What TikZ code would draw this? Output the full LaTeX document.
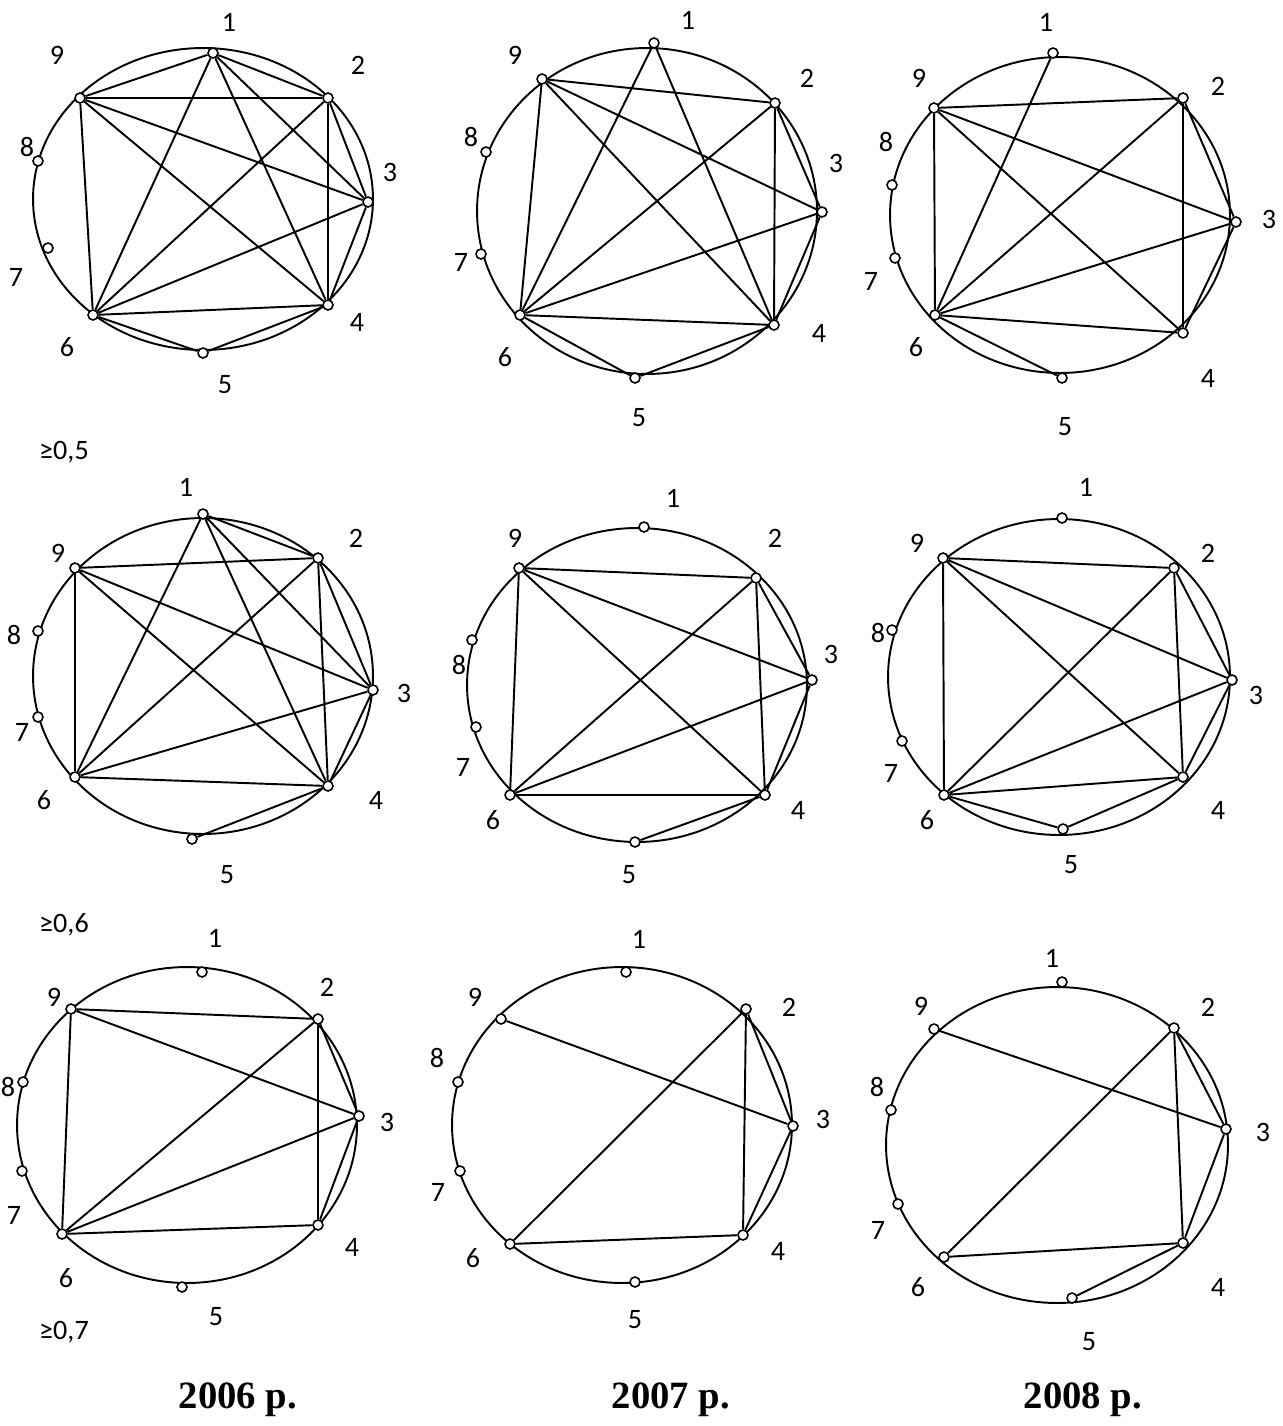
\documentclass[tikz,border=0pt]{standalone}
\usepackage{fontspec}
\setmainfont{Carlito}
\newfontfamily\yearfont{Liberation Serif}
\usepackage{tikz}

\begin{document}
\begin{tikzpicture}[x=0.02cm,y=-0.02cm,line width=1.1pt,
  vtx/.style={circle,draw,fill=white,inner sep=0pt,minimum size=0.2cm,line width=0.9pt},
  lbl/.style={font=\fontsize{16}{19}\selectfont,inner sep=0pt},
  yr/.style={font=\yearfont\bfseries\fontsize{22}{26}\selectfont,inner sep=0pt}]
\useasboundingbox (0,0) rectangle (1282,1426);

\draw (203,199) ellipse (3.4cm and 3.02cm);
\node[vtx] (a1) at (213,53) {}; \node[vtx] (a2) at (328,98) {}; \node[vtx] (a3) at (368,202) {};
\node[vtx] (a4) at (328,305) {}; \node[vtx] (a5) at (203,353) {}; \node[vtx] (a6) at (93,315) {};
\node[vtx] (a7) at (48,248) {}; \node[vtx] (a8) at (38,161) {}; \node[vtx] (a9) at (80,98) {};
\draw (a1)--(a9) (a1)--(a2) (a1)--(a3) (a1)--(a4) (a1)--(a6) (a9)--(a2) (a9)--(a3) (a9)--(a4) (a9)--(a6)
  (a2)--(a3) (a2)--(a4) (a2)--(a6) (a3)--(a4) (a3)--(a6) (a4)--(a6) (a4)--(a5) (a6)--(a5);
\node[lbl] (la1) at (229,22) {1}; \node[lbl] (la2) at (358,65) {2}; \node[lbl] (la3) at (390,172) {3};
\node[lbl] (la4) at (357,322) {4}; \node[lbl] (la5) at (225,385) {5}; \node[lbl] (la6) at (67,347) {6};
\node[lbl] (la7) at (16,277) {7}; \node[lbl] (la8) at (27,147) {8}; \node[lbl] (la9) at (57,55) {9};

\draw (647,211) ellipse (3.4cm and 3.26cm);
\node[vtx] (b1) at (654,43) {}; \node[vtx] (b2) at (775,103) {}; \node[vtx] (b3) at (822,212) {};
\node[vtx] (b4) at (774,325) {}; \node[vtx] (b5) at (635,378) {}; \node[vtx] (b6) at (520,315) {};
\node[vtx] (b7) at (481,254) {}; \node[vtx] (b8) at (486,152) {}; \node[vtx] (b9) at (542,79) {};
\draw (b1)--(b6) (b1)--(b4) (b9)--(b2) (b9)--(b3) (b9)--(b4) (b9)--(b6) (b2)--(b3) (b2)--(b4) (b2)--(b6)
  (b3)--(b4) (b3)--(b6) (b4)--(b6) (b4)--(b5) (b6)--(b5);
\node[lbl] (lb1) at (688,20) {1}; \node[lbl] (lb2) at (807,78) {2}; \node[lbl] (lb3) at (836,163) {3};
\node[lbl] (lb4) at (819,333) {4}; \node[lbl] (lb5) at (639,418) {5}; \node[lbl] (lb6) at (505,357) {6};
\node[lbl] (lb7) at (461,262) {7}; \node[lbl] (lb8) at (471,137) {8}; \node[lbl] (lb9) at (515,55) {9};

\draw (1060,215) ellipse (3.4cm and 3.16cm);
\node[vtx] (c1) at (1053,53) {}; \node[vtx] (c2) at (1183,98) {}; \node[vtx] (c3) at (1236,222) {};
\node[vtx] (c4) at (1183,333) {}; \node[vtx] (c5) at (1062,378) {}; \node[vtx] (c6) at (935,315) {};
\node[vtx] (c7) at (895,258) {}; \node[vtx] (c8) at (892,185) {}; \node[vtx] (c9) at (934,108) {};
\draw (c1)--(c6) (c9)--(c2) (c9)--(c3) (c9)--(c4) (c9)--(c6) (c2)--(c3) (c2)--(c4) (c2)--(c6)
  (c3)--(c4) (c3)--(c6) (c4)--(c6) (c6)--(c5);
\node[lbl] (lc1) at (1046,22) {1}; \node[lbl] (lc2) at (1218,86) {2}; \node[lbl] (lc3) at (1269,219) {3};
\node[lbl] (lc4) at (1208,378) {4}; \node[lbl] (lc5) at (1065,427) {5}; \node[lbl] (lc6) at (916,347) {6};
\node[lbl] (lc7) at (871,281) {7}; \node[lbl] (lc8) at (886,142) {8}; \node[lbl] (lc9) at (919,78) {9};

\node[lbl] (thr5) at (64,452) {≥0,5};
\draw (203,676) ellipse (3.4cm and 3.16cm);
\node[vtx] (d1) at (203,514) {}; \node[vtx] (d2) at (318,558) {}; \node[vtx] (d3) at (373,690) {};
\node[vtx] (d4) at (328,786) {}; \node[vtx] (d5) at (192,839) {}; \node[vtx] (d6) at (75,777) {};
\node[vtx] (d7) at (38,717) {}; \node[vtx] (d8) at (38,631) {}; \node[vtx] (d9) at (75,568) {};
\draw (d1)--(d2) (d1)--(d3) (d1)--(d4) (d1)--(d6) (d9)--(d2) (d9)--(d3) (d9)--(d4) (d9)--(d6)
  (d2)--(d3) (d2)--(d4) (d2)--(d6) (d3)--(d4) (d3)--(d6) (d4)--(d6) (d4)--(d5);
\node[lbl] (ld1) at (186,487) {1}; \node[lbl] (ld2) at (356,538) {2}; \node[lbl] (ld3) at (404,693) {3};
\node[lbl] (ld4) at (376,800) {4}; \node[lbl] (ld5) at (227,875) {5}; \node[lbl] (ld6) at (44,800) {6};
\node[lbl] (ld7) at (22,732) {7}; \node[lbl] (ld8) at (14,635) {8}; \node[lbl] (ld9) at (58,553) {9};

\draw (637,685) ellipse (3.4cm and 3.14cm);
\node[vtx] (e1) at (644,527) {}; \node[vtx] (e2) at (756,578) {}; \node[vtx] (e3) at (812,680) {};
\node[vtx] (e4) at (765,795) {}; \node[vtx] (e5) at (635,842) {}; \node[vtx] (e6) at (510,795) {};
\node[vtx] (e7) at (476,727) {}; \node[vtx] (e8) at (472,640) {}; \node[vtx] (e9) at (519,568) {};
\draw (e9)--(e2) (e9)--(e3) (e9)--(e4) (e9)--(e6) (e2)--(e3) (e2)--(e4) (e2)--(e6)
  (e3)--(e4) (e3)--(e6) (e4)--(e6) (e4)--(e5);
\node[lbl] (le1) at (673,498) {1}; \node[lbl] (le2) at (775,538) {2}; \node[lbl] (le3) at (831,654) {3};
\node[lbl] (le4) at (798,810) {4}; \node[lbl] (le5) at (629,875) {5}; \node[lbl] (le6) at (493,820) {6};
\node[lbl] (le7) at (463,767) {7}; \node[lbl] (le8) at (459,665) {8}; \node[lbl] (le9) at (515,538) {9};

\draw (1059,677) ellipse (3.42cm and 3.16cm);
\node[vtx] (f1) at (1062,518) {}; \node[vtx] (f2) at (1174,568) {}; \node[vtx] (f3) at (1232,680) {};
\node[vtx] (f4) at (1183,777) {}; \node[vtx] (f5) at (1063,829) {}; \node[vtx] (f6) at (944,795) {};
\node[vtx] (f7) at (902,741) {}; \node[vtx] (f8) at (892,630) {}; \node[vtx] (f9) at (943,558) {};
\draw (f9)--(f2) (f9)--(f3) (f9)--(f4) (f9)--(f6) (f2)--(f3) (f2)--(f4) (f2)--(f6)
  (f3)--(f4) (f3)--(f6) (f4)--(f6) (f4)--(f5) (f6)--(f5);
\node[lbl] (lf1) at (1086,487) {1}; \node[lbl] (lf2) at (1208,553) {2}; \node[lbl] (lf3) at (1256,695) {3};
\node[lbl] (lf4) at (1218,810) {4}; \node[lbl] (lf5) at (1071,865) {5}; \node[lbl] (lf6) at (927,820) {6};
\node[lbl] (lf7) at (891,773) {7}; \node[lbl] (lf8) at (878,633) {8}; \node[lbl] (lf9) at (917,543) {9};

\node[lbl] (thr6) at (64,925) {≥0,6};
\draw (187,1125) ellipse (3.4cm and 3.16cm);
\node[vtx] (g1) at (202,972) {}; \node[vtx] (g2) at (318,1019) {}; \node[vtx] (g3) at (359,1116) {};
\node[vtx] (g4) at (318,1225) {}; \node[vtx] (g5) at (182,1287) {}; \node[vtx] (g6) at (62,1234) {};
\node[vtx] (g7) at (22,1171) {}; \node[vtx] (g8) at (23,1082) {}; \node[vtx] (g9) at (71,1009) {};
\draw (g9)--(g2) (g9)--(g3) (g9)--(g6) (g2)--(g3) (g2)--(g4) (g2)--(g6) (g3)--(g4) (g3)--(g6) (g4)--(g6);
\node[lbl] (lg1) at (215,938) {1}; \node[lbl] (lg2) at (327,987) {2}; \node[lbl] (lg3) at (387,1122) {3};
\node[lbl] (lg4) at (352,1247) {4}; \node[lbl] (lg5) at (216,1317) {5}; \node[lbl] (lg6) at (66,1278) {6};
\node[lbl] (lg7) at (14,1215) {7}; \node[lbl] (lg8) at (8,1087) {8}; \node[lbl] (lg9) at (54,997) {9};
\node[lbl] (thr7) at (64,1332) {≥0,7};

\draw (622,1125) ellipse (3.4cm and 3.16cm);
\node[vtx] (h1) at (626,972) {}; \node[vtx] (h2) at (746,1009) {}; \node[vtx] (h3) at (793,1126) {};
\node[vtx] (h4) at (743,1235) {}; \node[vtx] (h5) at (635,1282) {}; \node[vtx] (h6) at (510,1244) {};
\node[vtx] (h7) at (460,1171) {}; \node[vtx] (h8) at (458,1082) {}; \node[vtx] (h9) at (501,1019) {};
\draw (h9)--(h3) (h2)--(h3) (h2)--(h4) (h2)--(h6) (h3)--(h4) (h4)--(h6);
\node[lbl] (lh1) at (639,939) {1}; \node[lbl] (lh2) at (789,1007) {2}; \node[lbl] (lh3) at (823,1119) {3};
\node[lbl] (lh4) at (778,1251) {4}; \node[lbl] (lh5) at (635,1320) {5}; \node[lbl] (lh6) at (473,1258) {6};
\node[lbl] (lh7) at (438,1192) {7}; \node[lbl] (lh8) at (437,1058) {8}; \node[lbl] (lh9) at (475,997) {9};

\draw (1057,1145) ellipse (3.42cm and 3.16cm);
\node[vtx] (i1) at (1062,982) {}; \node[vtx] (i2) at (1174,1028) {}; \node[vtx] (i3) at (1226,1129) {};
\node[vtx] (i4) at (1183,1243) {}; \node[vtx] (i5) at (1072,1298) {}; \node[vtx] (i6) at (944,1257) {};
\node[vtx] (i7) at (898,1204) {}; \node[vtx] (i8) at (891,1110) {}; \node[vtx] (i9) at (934,1029) {};
\draw (i9)--(i3) (i2)--(i3) (i2)--(i4) (i2)--(i6) (i3)--(i4) (i4)--(i6) (i4)--(i5);
\node[lbl] (li1) at (1052,958) {1}; \node[lbl] (li2) at (1208,1007) {2}; \node[lbl] (li3) at (1263,1132) {3};
\node[lbl] (li4) at (1218,1287) {4}; \node[lbl] (li5) at (1089,1342) {5}; \node[lbl] (li6) at (918,1287) {6};
\node[lbl] (li7) at (878,1230) {7}; \node[lbl] (li8) at (877,1087) {8}; \node[lbl] (li9) at (921,1006) {9};

\node[yr] (y2006) at (238,1400) {2006 р.};
\node[yr] (y2007) at (671,1400) {2007 р.};
\node[yr] (y2008) at (1083,1400) {2008 р.};
\end{tikzpicture}
\end{document}
